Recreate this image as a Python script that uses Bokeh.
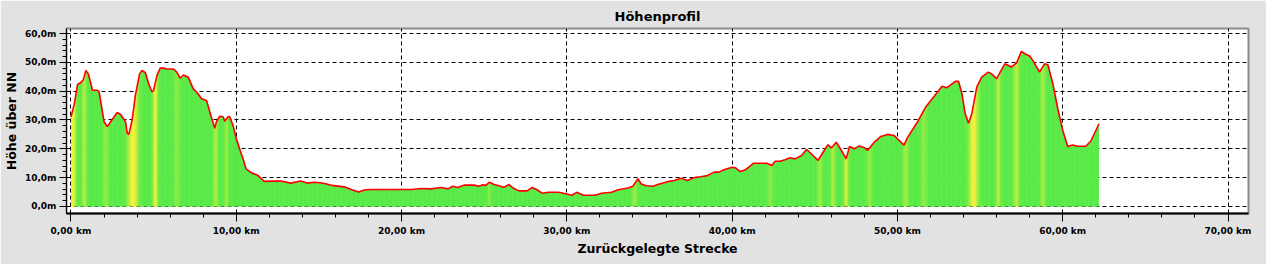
import numpy as np
from bokeh.plotting import figure
from bokeh.models import FixedTicker, ColumnDataSource
from bokeh.embed import file_html
from bokeh.resources import INLINE

# ---- data ----
dist_km = [0.0, 0.2, 0.4, 0.6, 0.75, 0.9, 1.05, 1.3, 1.6, 1.7, 2.0, 2.2, 2.4, 2.8, 3.0, 3.3, 3.4, 3.5, 3.7, 3.9,
           4.15, 4.3, 4.5, 4.7, 4.9, 5.0, 5.2, 5.4, 5.6, 5.8, 6.2, 6.4, 6.6, 6.8, 7.1, 7.4, 7.6, 7.9, 8.2, 8.4,
           8.7, 8.8, 9.0, 9.2, 9.3, 9.5, 9.6, 9.8, 10.0, 10.2, 10.4, 10.6, 10.9, 11.3, 11.7, 12.3, 12.7, 13.3, 13.9, 14.3,
           14.7, 15.1, 15.4, 15.8, 16.6, 17.0, 17.4, 17.8, 18.2, 19.8, 20.6, 21.2, 21.8, 22.4, 22.8, 23.1, 23.4, 23.8, 24.4, 24.7,
           24.9, 25.1, 25.3, 25.6, 26.0, 26.2, 26.5, 26.8, 27.1, 27.6, 27.9, 28.2, 28.5, 28.9, 29.5, 30.0, 30.3, 30.6, 31.0, 31.7,
           32.1, 32.7, 33.1, 33.7, 34.0, 34.3, 34.5, 34.8, 35.2, 35.6, 36.1, 36.5, 36.9, 37.3, 37.7, 38.1, 38.5, 38.9, 39.2, 39.5,
           40.0, 40.2, 40.5, 40.8, 41.3, 42.1, 42.4, 42.6, 42.9, 43.2, 43.5, 43.8, 44.2, 44.5, 44.8, 45.2, 45.5, 45.8, 46.0, 46.3,
           46.6, 46.9, 47.1, 47.4, 47.7, 48.0, 48.2, 48.6, 49.0, 49.4, 49.8, 50.0, 50.4, 50.6, 51.2, 51.7, 52.2, 52.7, 53.0, 53.5,
           53.7, 53.9, 54.1, 54.3, 54.5, 54.8, 55.1, 55.5, 55.7, 56.0, 56.2, 56.5, 56.9, 57.2, 57.5, 57.7, 58.0, 58.2, 58.6, 58.9,
           59.1, 59.4, 59.7, 60.0, 60.3, 60.6, 60.9, 61.4, 61.7, 62.2]
elev_m = [31.0, 35.5, 42.3, 43.0, 44.0, 47.2, 46.0, 40.3, 40.3, 39.8, 29.4, 27.7, 29.4, 32.6, 31.9, 29.4, 25.4, 25.0, 30.0, 38.6,
          46.0, 47.2, 46.4, 42.6, 39.7, 40.3, 45.4, 48.0, 48.0, 47.7, 47.7, 46.6, 44.5, 45.6, 44.8, 40.8, 39.7, 37.4, 36.8, 32.8,
          27.1, 29.4, 31.3, 31.1, 29.6, 31.1, 31.1, 28.2, 23.6, 20.0, 16.7, 13.0, 11.7, 10.8, 8.7, 8.8, 8.8, 8.1, 8.8, 8.1,
          8.4, 8.2, 7.9, 7.3, 6.7, 5.8, 5.0, 5.8, 5.9, 5.9, 5.9, 6.2, 6.1, 6.6, 6.1, 7.0, 6.6, 7.4, 7.4, 7.0,
          7.5, 7.3, 8.4, 7.6, 7.0, 6.6, 7.6, 6.2, 5.4, 5.4, 6.6, 5.8, 4.6, 4.9, 4.9, 4.3, 3.9, 4.9, 3.9, 3.9,
          4.6, 4.9, 5.8, 6.4, 7.0, 9.6, 7.8, 7.2, 7.0, 7.8, 8.6, 9.0, 9.8, 9.0, 10.0, 10.3, 10.7, 11.9, 11.9, 12.7,
          13.6, 13.4, 12.1, 12.7, 15.0, 15.0, 14.2, 15.7, 15.7, 16.2, 16.9, 16.5, 17.7, 19.8, 18.2, 16.0, 18.8, 21.4, 20.3, 22.3,
          19.5, 16.5, 20.8, 20.0, 21.0, 20.4, 19.5, 22.3, 24.3, 25.0, 24.6, 23.5, 21.3, 23.8, 29.2, 34.4, 38.1, 41.7, 41.2, 43.4,
          43.4, 39.1, 32.2, 28.9, 32.2, 41.4, 44.9, 46.6, 46.0, 44.3, 46.4, 49.5, 48.4, 49.7, 53.8, 53.0, 52.2, 50.6, 46.6, 49.5,
          49.2, 42.6, 33.9, 26.4, 20.8, 21.3, 20.9, 20.9, 22.7, 28.7]

# yellow stripes in the fill: centre (km), half width (km), strength
stripe_km = [0.1, 0.8, 2.1, 3.75, 5.1, 6.4, 8.75, 9.4, 25.3, 34.1, 42.3, 45.3, 46.1, 46.9, 48.3, 50.5, 51.6, 54.6, 56.1, 57.2, 58.8]
stripe_w = [0.2, 0.15, 0.18, 0.32, 0.15, 0.18, 0.14, 0.12, 0.12, 0.14, 0.18, 0.14, 0.14, 0.14, 0.18, 0.18, 0.18, 0.28, 0.14, 0.18, 0.14]
stripe_s = [1.0, 0.55, 0.35, 1.0, 0.95, 0.3, 0.55, 0.45, 0.3, 0.45, 0.3, 0.45, 0.55, 0.8, 0.35, 0.45, 0.35, 1.0, 0.6, 0.6, 0.5]

x_ticks = [0, 10, 20, 30, 40, 50, 60, 70]
x_tick_labels = ["0,00 km", "10,00 km", "20,00 km", "30,00 km", "40,00 km", "50,00 km", "60,00 km", "70,00 km"]
y_ticks = [0, 10, 20, 30, 40, 50, 60]
y_tick_labels = ["0,0m", "10,0m", "20,0m", "30,0m", "40,0m", "50,0m", "60,0m"]
x_minor = list(range(0, 72, 2))
y_minor = list(range(0, 62, 2))

FONT = "DejaVu Sans"

p = figure(width=1266, height=264, output_backend="svg", toolbar_location=None,
           x_range=(-0.27, 71.24), y_range=(-2.45, 61.75),
           min_border_left=64, min_border_right=18, min_border_top=28, min_border_bottom=51)
p.border_fill_color = "#e2e2e2"
p.background_fill_color = "white"
p.outline_line_color = "#8a8a8a"
p.outline_line_width = 2

# fill built from thin columns coloured by the stripe data
step = 0.05
xs = np.arange(dist_km[0], dist_km[-1], step)
tops = np.interp(xs + step / 2, dist_km, elev_m)
s = np.zeros_like(xs)
for c, w, k in zip(stripe_km, stripe_w, stripe_s):
    s = np.maximum(s, k * np.exp(-((xs + step / 2 - c) / w) ** 2))
g = np.array([88, 234, 72])
yel = np.array([245, 242, 60])
cols = ["#%02x%02x%02x" % tuple(int(v) for v in (g + (yel - g) * t)) for t in s]
src = ColumnDataSource(dict(left=xs, right=np.minimum(xs + step * 1.7, dist_km[-1]), top=tops,
                            bottom=np.zeros_like(xs), color=cols))
p.quad(left="left", right="right", top="top", bottom="bottom", fill_color="color",
       line_color=None, source=src)

p.line(dist_km, elev_m, line_color="#ff0000", line_width=1.6)

# axes
p.xaxis.ticker = FixedTicker(ticks=x_ticks, minor_ticks=x_minor)
p.yaxis.ticker = FixedTicker(ticks=y_ticks, minor_ticks=y_minor)
p.xaxis.major_label_overrides = dict(zip(x_ticks, x_tick_labels))
p.yaxis.major_label_overrides = dict(zip(y_ticks, y_tick_labels))
p.xgrid.ticker = FixedTicker(ticks=x_ticks)
p.ygrid.ticker = FixedTicker(ticks=y_ticks)
for gr in (p.xgrid, p.ygrid):
    gr.grid_line_color = "black"
    gr.grid_line_dash = "4 3"
    gr.grid_line_width = 1
    gr.grid_line_alpha = 1

p.xaxis.axis_label = "Zurückgelegte Strecke"
p.yaxis.axis_label = "Höhe über NN"
for ax in (p.xaxis, p.yaxis):
    ax.axis_line_color = "black"
    ax.major_tick_line_color = "black"
    ax.minor_tick_line_color = "black"
    ax.major_tick_in = 0
    ax.minor_tick_in = 0
    ax.major_label_text_font = FONT
    ax.major_label_text_font_size = "9px"
    ax.major_label_text_font_style = "bold"
    ax.major_label_text_color = "black"
    ax.axis_label_text_font = FONT
    ax.axis_label_text_font_size = "12.5px"
    ax.axis_label_text_font_style = "bold"
    ax.axis_label_text_color = "black"
p.xaxis.axis_line_width = 2
p.xaxis.major_tick_out = 8
p.xaxis.minor_tick_out = 4
p.xaxis.major_label_standoff = 4
p.xaxis.axis_label_standoff = 2
p.yaxis.major_tick_out = 7
p.yaxis.minor_tick_out = 4
p.yaxis.major_label_standoff = 3
p.yaxis.axis_label_standoff = 3

p.title.text = "Höhenprofil"
p.title.align = "center"
p.title.offset = -10
p.title.text_font = FONT
p.title.text_font_size = "13px"
p.title.text_font_style = "bold"
p.title.text_color = "black"

open("out.html", "w").write(file_html(p, INLINE))
